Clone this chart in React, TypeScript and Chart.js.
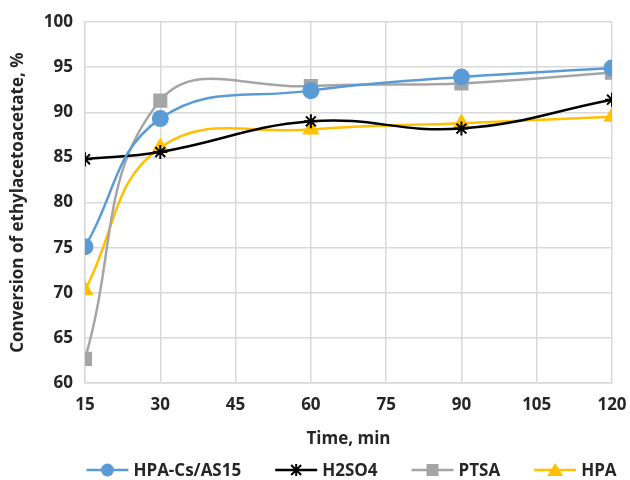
import React, { useEffect, useRef } from "react";
import { Chart, registerables } from "chart.js";

Chart.register(...registerables);

const timeMin = [15, 30, 60, 90, 120];
const hpaCsAs15 = [75.1, 89.3, 92.4, 93.9, 94.9];
const h2so4 = [84.8, 85.6, 89.0, 88.2, 91.4];
const ptsa = [62.7, 91.3, 92.9, 93.2, 94.4];
const hpa = [70.3, 86.1, 88.1, 88.8, 89.5];

const seriesNames = ["HPA-Cs/AS15", "H2SO4", "PTSA", "HPA"];
const seriesColors = ["#5B9BD5", "#000000", "#A5A5A5", "#FFC000"];
const seriesStyles = ["circle", "star", "rect", "triangle"] as const;
const seriesRadius = [8.5, 7, 10, 10];

const FONT = "'Open Sans', 'Liberation Sans', sans-serif";
const TEXT = "#262626";
const FS = 17;

// legend entries: a short line with the series marker, then the name
function drawSwatch(ctx: CanvasRenderingContext2D, x: number, y: number, w: number, color: string, style: string) {
  ctx.save();
  ctx.strokeStyle = color;
  ctx.fillStyle = color;
  ctx.lineWidth = 2.5;
  ctx.beginPath();
  ctx.moveTo(x, y);
  ctx.lineTo(x + w, y);
  ctx.stroke();
  const cx = x + w / 2, cy = y;
  if (style === "circle") {
    ctx.beginPath();
    ctx.arc(cx, cy, 6.5, 0, Math.PI * 2);
    ctx.fill();
  } else if (style === "rect") {
    ctx.fillRect(cx - 6, cy - 6, 12, 12);
  } else if (style === "triangle") {
    ctx.beginPath();
    ctx.moveTo(cx, cy - 7);
    ctx.lineTo(cx + 8, cy + 6);
    ctx.lineTo(cx - 8, cy + 6);
    ctx.closePath();
    ctx.fill();
  } else {
    ctx.lineWidth = 2;
    const r = 5;
    ctx.beginPath();
    ctx.moveTo(cx - r, cy - r);
    ctx.lineTo(cx + r, cy + r);
    ctx.moveTo(cx + r, cy - r);
    ctx.lineTo(cx - r, cy + r);
    ctx.moveTo(cx, cy - r - 1);
    ctx.lineTo(cx, cy + r + 1);
    ctx.stroke();
  }
  ctx.restore();
}

const lineLegend = {
  id: "lineLegend",
  afterDraw(chart: any) {
    const ctx: CanvasRenderingContext2D = chart.ctx;
    const swatchW = 42;
    const textGap = 5;
    const itemGap = 34;
    ctx.save();
    ctx.font = `bold ${FS}px ${FONT}`;
    ctx.textBaseline = "middle";
    ctx.fillStyle = TEXT;
    const widths = seriesNames.map((n) => swatchW + textGap + ctx.measureText(n).width);
    const total = widths.reduce((a, b) => a + b, 0) + itemGap * (widths.length - 1);
    const area = chart.chartArea;
    let x = (area.left + area.right) / 2 - total / 2 + 3;
    const y = chart.height - 10;
    seriesNames.forEach((name, i) => {
      drawSwatch(ctx, x, y, swatchW, seriesColors[i], seriesStyles[i]);
      ctx.fillStyle = TEXT;
      ctx.fillText(name, x + swatchW + textGap, y + 1);
      x += widths[i] + itemGap;
    });
    ctx.restore();
  },
};

export default function App() {
  const ref = useRef<HTMLCanvasElement | null>(null);

  useEffect(() => {
    document.body.style.margin = "0";
    const values = [hpaCsAs15, h2so4, ptsa, hpa];

    const chart = new Chart(ref.current!, {
      type: "line",
      data: {
        datasets: values.map((v, i) => ({
          label: seriesNames[i],
          data: v.map((y, j) => ({ x: timeMin[j], y })),
          borderColor: seriesColors[i],
          backgroundColor: seriesColors[i],
          borderWidth: 2.5,
          pointStyle: seriesStyles[i],
          pointRadius: seriesRadius[i],
          pointBorderWidth: seriesStyles[i] === "star" ? 2 : 0,
          pointBorderColor: seriesColors[i],
          tension: 0.42,
          fill: false,
        })),
      },
      plugins: [lineLegend],
      options: {
        animation: false,
        responsive: false,
        layout: { padding: { left: 8, right: 18, top: 22, bottom: 25 } },
        plugins: {
          tooltip: { enabled: false },
          legend: { display: false },
        },
        scales: {
          x: {
            type: "linear",
            min: 15,
            max: 120,
            ticks: {
              stepSize: 15,
              color: TEXT,
              padding: 12,
              font: { family: FONT, size: FS, weight: "bold" },
            },
            grid: { color: "#D9D9D9", lineWidth: 1.5, drawTicks: false },
            border: { color: "#D9D9D9", width: 1.5 },
            title: {
              display: true,
              text: "Time, min",
              color: TEXT,
              padding: { top: 1, bottom: 6 },
              font: { family: FONT, size: FS, weight: "bold" },
            },
            afterFit: (s: any) => {
              s.paddingRight = 0;
              s.paddingLeft = 0;
            },
          },
          y: {
            min: 60,
            max: 100,
            ticks: {
              stepSize: 5,
              color: TEXT,
              padding: 12,
              font: { family: FONT, size: FS, weight: "bold" },
            },
            grid: { color: "#D9D9D9", lineWidth: 1.5, drawTicks: false },
            border: { color: "#D9D9D9", width: 1.5 },
            title: {
              display: true,
              text: "Conversion of ethylacetoacetate, %",
              color: TEXT,
              padding: { top: 0, bottom: 6 },
              font: { family: FONT, size: FS, weight: "bold" },
            },
            afterFit: (s: any) => {
              s.width = 77;
              s.paddingTop = 0;
              s.paddingBottom = 0;
            },
          },
        },
      },
    });
    return () => chart.destroy();
  }, []);

  return (
    <div style={{ width: 630, height: 480 }}>
      <canvas ref={ref} width={630} height={480} />
    </div>
  );
}
